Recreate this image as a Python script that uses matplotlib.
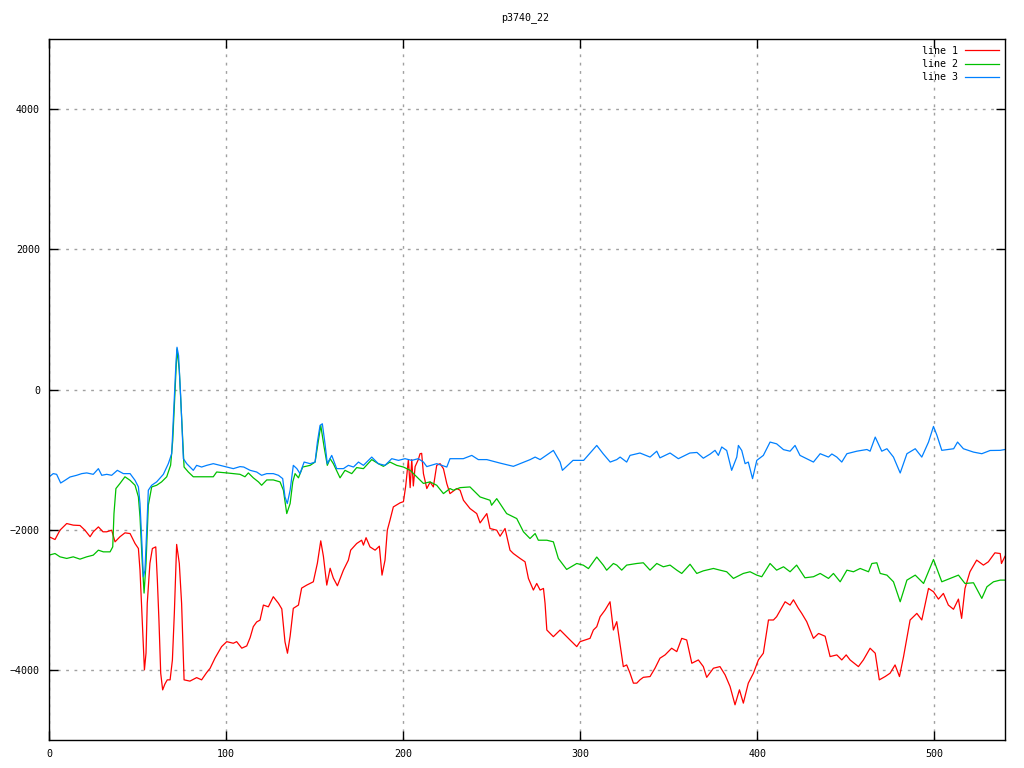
import matplotlib
matplotlib.use("Agg")
import matplotlib.pyplot as plt

title = "p3740_22"
labels = ["line 1", "line 2", "line 3"]
colors = ["#ff0000", "#00c000", "#0080ff"]
xticks = [0, 100, 200, 300, 400, 500]
yticks = [-4000, -2000, 0, 2000, 4000]

# line 1 (red)
x1 = [0, 3.4, 6.2, 10, 13.7, 17.5, 20.3, 23.2, 25, 27.9, 30.5, 32.6, 35.4, 37.3, 40.1, 42.9, 45.8,
      48.6, 50.5, 51.4, 52.7, 53.9, 54.8, 55.5, 57, 58.4, 60.3, 61.2, 62.1, 63.1, 64.2, 65.5, 66.8,
      68.4, 69.7, 70.8, 72.1, 73.6, 74.9, 76.3, 79.6, 83.4, 86.2, 89, 91, 93.8, 97.5, 100.4, 104.1,
      106, 108.9, 111.7, 113.6, 115.4, 117.3, 119.2, 121.1, 123.9, 126.7, 129.6, 131.5, 133.3, 134.7,
      136.2, 138, 140.9, 142.7, 145.6, 149.3, 151.6, 153.5, 155, 156.9, 158.8, 160.6, 162.9, 166.3,
      169.1, 170.4, 173.8, 176.6, 177.6, 179.1, 181.3, 184.2, 186.6, 188.1, 189.8, 191.1, 192.6,
      194.5, 198.3, 200.2, 201.5, 203, 204, 204.9, 205.8, 206.8, 208.6, 209.6, 210.5, 211.5, 213.4,
      215.3, 217.1, 219, 220.9, 222.8, 224.7, 226.5, 230.3, 232.2, 234.1, 237.8, 241.6, 243.5, 247.3,
      249.1, 252.9, 254.8, 257.6, 260.4, 262.3, 266.1, 268.9, 270.8, 273.6, 275.5, 277.4, 279.3,
      280.2, 281.2, 284.9, 288.7, 292.4, 294.3, 298.1, 300, 305.6, 307.5, 309.4, 311.3, 314.1, 316.9,
      318.8, 320.7, 322.6, 324.4, 326.3, 328.2, 330.1, 332, 333.8, 335.7, 339.5, 342.3, 345.1, 348,
      351.7, 354.6, 357.4, 360.2, 363.1, 366.8, 369.6, 371.5, 375.3, 379, 381.9, 384.7, 387.5, 390,
      392.2, 395, 397.9, 400.7, 403.5, 406.4, 409.2, 411, 415.8, 418.6, 420.5, 423.3, 425.2, 428,
      431.8, 434.7, 438.4, 441.2, 445, 447.8, 450.3, 452.5, 457.2, 460, 463.8, 466.7, 469, 472.3,
      475.1, 477.9, 480.4, 482.7, 486.4, 490.2, 493, 496.8, 499.6, 502.4, 505.2, 508, 510.9, 513.7,
      515.5, 517.4, 520.2, 524, 527.8, 530.6, 534.3, 537.3, 538, 540]
y1 = [-2100, -2140, -2007, -1912, -1935, -1940, -2007, -2100, -2030, -1960, -2030, -2030, -2007,
      -2173, -2100, -2045, -2055, -2197, -2268, -2577, -3335, -4000, -3760, -3050, -2480, -2268,
      -2245, -2719, -3290, -4047, -4285, -4200, -4142, -4142, -3860, -3190, -2210, -2480, -3050,
      -4142, -4160, -4110, -4142, -4040, -3977, -3830, -3668, -3597, -3620, -3597, -3690, -3658,
      -3540, -3383, -3316, -3290, -3075, -3100, -2956, -3050, -3130, -3600, -3762, -3520, -3122,
      -3075, -2833, -2790, -2743, -2477, -2159, -2380, -2790, -2550, -2690, -2800, -2577, -2434,
      -2292, -2197, -2150, -2220, -2114, -2245, -2292, -2235, -2648, -2434, -2007, -1865, -1675,
      -1617, -1600, -1376, -1000, -1400, -1000, -1376, -1100, -1000, -916, -911, -1200, -1413,
      -1320, -1390, -1082, -1058, -1130, -1343, -1485, -1413, -1437, -1580, -1698, -1770, -1903,
      -1770, -1983, -2007, -2093, -1983, -2292, -2340, -2410, -2458, -2695, -2861, -2767, -2861,
      -2838, -3051, -3431, -3526, -3431, -3526, -3573, -3668, -3597, -3550, -3431, -3384, -3241,
      -3146, -3028, -3431, -3312, -3644, -3953, -3929, -4047, -4189, -4189, -4142, -4106, -4095,
      -3976, -3833, -3786, -3691, -3739, -3550, -3573, -3905, -3858, -3953, -4106, -3976, -3953,
      -4071, -4237, -4498, -4284, -4474, -4189, -4047, -3858, -3762, -3288, -3288, -3241, -3028,
      -3075, -3000, -3122, -3194, -3312, -3550, -3480, -3520, -3810, -3786, -3858, -3786, -3858,
      -3953, -3858, -3691, -3762, -4142, -4095, -4047, -3929, -4095, -3810, -3288, -3194, -3288,
      -2838, -2885, -2990, -2909, -3075, -3135, -2990, -3265, -2838, -2600, -2434, -2505, -2458,
      -2330, -2340, -2482, -2380]

# line 2 (green)
x2 = [0, 3.4, 6.2, 10, 13.7, 17.5, 21.3, 25, 27.9, 30.7, 34.5, 36, 36.7, 37.8, 40.1, 42.9, 45.8,
      48.6, 50.5, 51.4, 52.7, 53.7, 54.8, 56.1, 58, 60.8, 63.6, 66.5, 68.7, 69.9, 71.2, 72.3, 73.6,
      74.9, 76.3, 78.7, 81.5, 85.3, 89.1, 92.8, 94.7, 100.4, 104, 107.9, 110.7, 112.6, 115.4, 118.3,
      120.1, 123, 126.7, 130.5, 132.4, 134.3, 136.2, 137.7, 139, 140.9, 143.3, 147.5, 150.3, 151.6,
      153.5, 155.4, 157.2, 158.8, 160.6, 164.4, 167.2, 171, 173.8, 177.6, 182.3, 186, 188.9, 192.6,
      196.4, 200.2, 204, 207.7, 211.5, 215.2, 219, 222.8, 226.5, 228.4, 232.2, 237.8, 243.5, 249.1,
      250, 252.9, 258.5, 264.2, 266.1, 268, 271.7, 274.6, 276.4, 281.2, 284.9, 287.7, 292.4, 298.1,
      301.8, 304.7, 309.4, 313.1, 315, 318.8, 320.7, 323.5, 326.3, 332, 335.7, 339.5, 343.3, 347,
      350.8, 354.6, 357.4, 362.1, 365.9, 369.6, 375.3, 379, 382.8, 386.6, 392.2, 396, 399.8, 402.6,
      407.3, 411, 414.9, 418.6, 422.3, 427, 431.8, 435.6, 440.3, 443.1, 446.9, 450.7, 454.4, 458.2,
      462.9, 464.8, 467.6, 469.5, 473.3, 477, 480.8, 484.6, 489.3, 494, 499.6, 504.3, 509, 513.7,
      517.4, 522.2, 526.9, 529.8, 533.5, 537.3, 540]
y2 = [-2363, -2340, -2387, -2410, -2387, -2420, -2387, -2363, -2292, -2316, -2316, -2245, -1770,
      -1413, -1340, -1245, -1296, -1366, -1532, -1817, -2480, -2904, -2480, -1650, -1390, -1366,
      -1318, -1245, -1079, -726, -14, 579, 270, -394, -1106, -1177, -1245, -1245, -1245, -1245,
      -1177, -1190, -1200, -1210, -1245, -1190, -1260, -1318, -1366, -1290, -1290, -1318, -1437,
      -1770, -1627, -1318, -1200, -1260, -1106, -1082, -1035, -821, -512, -821, -1082, -987, -1058,
      -1260, -1153, -1200, -1114, -1129, -1000, -1058, -1096, -1035, -1082, -1106, -1153, -1245,
      -1340, -1318, -1366, -1485, -1413, -1437, -1400, -1390, -1533, -1580, -1651, -1557, -1770,
      -1841, -1936, -2030, -2126, -2055, -2150, -2150, -2173, -2410, -2567, -2482, -2506, -2555,
      -2390, -2506, -2578, -2482, -2505, -2577, -2505, -2482, -2472, -2577, -2482, -2529, -2505,
      -2577, -2624, -2493, -2624, -2587, -2553, -2577, -2600, -2695, -2624, -2600, -2648, -2671,
      -2482, -2577, -2529, -2600, -2505, -2686, -2671, -2624, -2695, -2624, -2743, -2577, -2600,
      -2553, -2600, -2482, -2472, -2624, -2648, -2743, -3028, -2719, -2648, -2767, -2425, -2743,
      -2695, -2648, -2767, -2757, -2980, -2814, -2743, -2719, -2719]

# line 3 (blue)
x3 = [0, 2.4, 4.3, 6.6, 9, 11.9, 15.6, 18.5, 21.3, 25, 27.9, 29.8, 32.6, 35.4, 38.6, 42, 45.8,
      48.6, 50.5, 51.4, 52.3, 53.3, 54.2, 55.2, 56.1, 58, 60.8, 64.6, 67.4, 69.3, 70.2, 71.6, 72.3,
      73.2, 74.4, 75.9, 77.8, 79.7, 81.5, 83.4, 86.2, 89.1, 92.8, 96.6, 100.4, 104.1, 107.9, 110,
      113.6, 117.3, 120.1, 123, 126.7, 129.6, 132, 133.3, 134.6, 136.2, 138, 140, 141.8, 144.1,
      147.5, 150.3, 151.6, 153.1, 154.4, 155.9, 157.2, 159.7, 162.5, 166.3, 169.1, 172, 174.8, 177.6,
      182.3, 186, 189.8, 193.6, 197.4, 201.1, 204.9, 208.6, 211.5, 213.4, 219, 224.7, 226.5, 234,
      238.8, 242.5, 247.3, 254.8, 262.3, 266, 271.8, 274.6, 277.4, 284.9, 288.7, 290, 296, 302,
      309.4, 313, 317, 320.7, 322.6, 326.3, 328.2, 333.8, 339.5, 343.3, 345.1, 350.8, 355.5, 362,
      366, 369.6, 373.5, 376.2, 378.1, 380, 382.8, 385.6, 388.5, 389.4, 391.3, 393.2, 395, 397.4,
      399.8, 403.5, 407.3, 411, 414.9, 418.6, 421.4, 424.2, 427, 431.8, 435.6, 440.3, 442.2, 445,
      447.8, 450.7, 456.3, 462, 463.8, 466.7, 470.4, 473.3, 477, 480.8, 484.6, 489.3, 493, 496.8,
      499.6, 501.5, 504.3, 511, 513.2, 516.5, 522.2, 526.9, 531.6, 537.3, 540]
y3 = [-1248, -1200, -1210, -1334, -1296, -1248, -1224, -1200, -1190, -1210, -1129, -1224, -1210,
      -1224, -1153, -1200, -1200, -1296, -1390, -1627, -2100, -2670, -2580, -2007, -1437, -1366,
      -1318, -1210, -1058, -916, -441, 318, 603, 484, -109, -987, -1058, -1106, -1153, -1082, -1106,
      -1082, -1058, -1082, -1106, -1129, -1100, -1106, -1153, -1177, -1224, -1200, -1200, -1224,
      -1271, -1532, -1627, -1437, -1082, -1129, -1200, -1035, -1058, -1035, -750, -512, -489, -774,
      -1058, -940, -1129, -1129, -1082, -1106, -1035, -1082, -964, -1058, -1082, -987, -1011, -987,
      -1011, -987, -1035, -1100, -1058, -1106, -987, -987, -940, -1000, -1000, -1050, -1096, -1058,
      -1000, -964, -1000, -869, -1035, -1153, -1011, -1011, -798, -916, -1035, -1000, -964, -1035,
      -940, -906, -964, -880, -975, -906, -987, -906, -898, -980, -920, -868, -940, -820,
      -870, -1153, -964, -798, -870, -1058, -1035, -1272, -1011, -940, -750, -775, -858, -880, -798,
      -940, -975, -1035, -916, -964, -920, -964, -1035, -916, -880, -856, -880, -679, -880, -845,
      -964, -1191, -916, -845, -964, -750, -527, -650, -868, -845, -750, -845, -893, -916, -870, -868,
      -856]

fig = plt.figure(figsize=(10.24, 7.68), dpi=100)
ax = fig.add_axes([49 / 1024, 1 - 740 / 768, (1005 - 49) / 1024, (740 - 39) / 768])

mono = ["DejaVu Sans Mono"]
fs = 7.2
ax.plot(x1, y1, color=colors[0], lw=0.9, label=labels[0])
ax.plot(x2, y2, color=colors[1], lw=0.9, label=labels[1])
ax.plot(x3, y3, color=colors[2], lw=0.9, label=labels[2])

ax.set_xlim(0, 540)
ax.set_ylim(-5000, 5000)
ax.set_xticks(xticks)
ax.set_yticks(yticks)
ax.tick_params(direction="in", length=6.5, width=1, top=True, right=True,
               labelsize=fs, pad=6.5)
for lab in ax.get_xticklabels() + ax.get_yticklabels():
    lab.set_family(mono)
ax.grid(True, color="#a0a0a0", linestyle=(0, (2, 4)), lw=1)
for s in ax.spines.values():
    s.set_color("black")
    s.set_linewidth(1)

fig.text(525 / 1024, 1 - 18 / 768, title, ha="center", va="center", fontsize=fs, family=mono)
leg = ax.legend(loc="upper right", frameon=False, markerfirst=False, handlelength=3.4,
                prop={"family": mono, "size": fs}, labelspacing=0.35,
                borderaxespad=0.2, borderpad=0.45, handletextpad=0.7)

fig.savefig("out.png", dpi=100)
